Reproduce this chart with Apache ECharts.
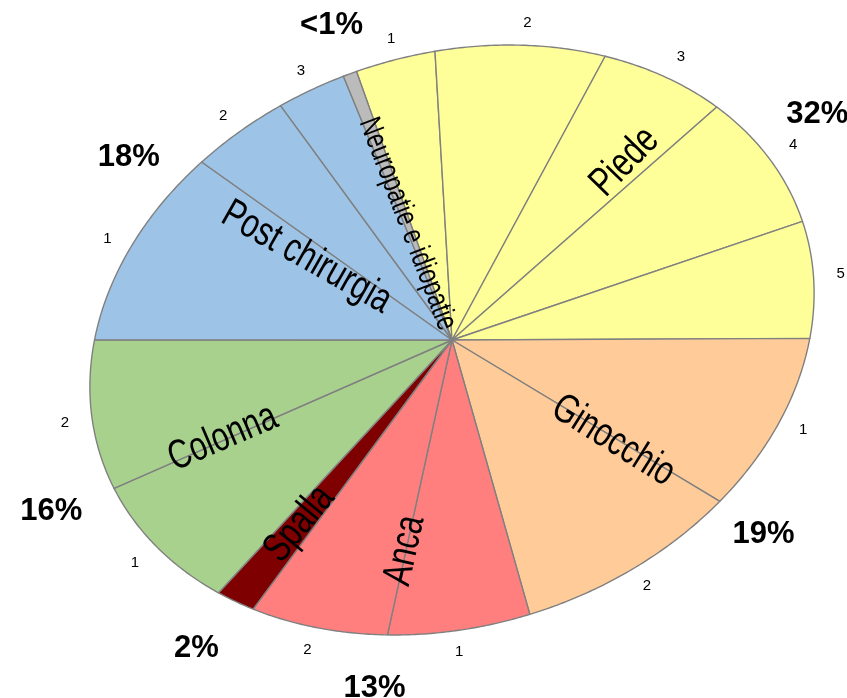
<!DOCTYPE html>
<html>
<head>
<meta charset="utf-8">
<title>Distribuzione per distretto</title>
<style>
  html, body { margin: 0; padding: 0; background: #ffffff; }
  #chart { width: 847px; height: 698px; }
</style>
</head>
<body>
<div id="chart"></div>
<script src="https://cdn.jsdelivr.net/npm/echarts@6/dist/echarts.min.js"></script>
<script>
// districts, clockwise from the top
const groups = ['Piede', 'Ginocchio', 'Anca', 'Spalla', 'Colonna', 'Post chirurgia', 'Neuropatie e idiopatie'];

// sub-slice values (% of total), clockwise inside each district
const piede = [3.5, 7.7, 6.1, 7.9, 6.5];
const ginocchio = [9.3, 9.8];
const anca = [6.3, 6.4];
const spalla = [1.9];
const colonna = [8.0, 8.4];
const postChirurgia = [10.3, 4.3, 3.0];
const neuropatie = [0.6];

const subValues = [piede, ginocchio, anca, spalla, colonna, postChirurgia, neuropatie];
const colors = ['#ffff99', '#ffcc99', '#ff7f7f', '#7f0000', '#a9d18e', '#9dc3e6', '#bbbbbb'];

// the pie is drawn as a tilted ellipse (axis units are pixels from the centre)
const RX = 370, RY = 285;
const TILT = -18.8 * Math.PI / 180;
const START = -90.6;             // first slice edge, degrees, clockwise
const pctShift = [17, 0, 0, 0, 0, 0, 0];  // degrees, nudges the % labels
const FONT = '"Liberation Sans", Arial, Helvetica, sans-serif';
const NAME_SIZE = 41, NAME_SQUASH = 0.75, NAME_MAX = 225;

const total = subValues.flat().reduce((a, b) => a + b, 0);
const slices = [];
const groupStart = [], groupEnd = [], groupSum = [];
let acc = START;
subValues.forEach((vals, g) => {
  groupStart[g] = acc;
  groupSum[g] = vals.reduce((a, b) => a + b, 0);
  vals.forEach((v, i) => {
    const a0 = acc;
    acc += v / total * 360;
    slices.push({ g: g, i: i, n: vals.length, v: v, a0: a0, a1: acc });
  });
  groupEnd[g] = acc;
});

function ellipsePoint(deg, r) {
  const a = deg * Math.PI / 180;
  const x0 = RX * r * Math.cos(a), y0 = RY * r * Math.sin(a);
  return [x0 * Math.cos(TILT) - y0 * Math.sin(TILT), x0 * Math.sin(TILT) + y0 * Math.cos(TILT)];
}

const measureCtx = document.createElement('canvas').getContext('2d');
function textWidth(text, size) {
  measureCtx.font = size + 'px ' + FONT;
  return measureCtx.measureText(text).width;
}

function renderSlice(params, api) {
  const s = slices[params.dataIndex];
  const pts = [api.coord([0, 0])];
  const steps = Math.max(2, Math.ceil((s.a1 - s.a0) / 0.5));
  for (let k = 0; k <= steps; k++) {
    pts.push(api.coord(ellipsePoint(s.a0 + (s.a1 - s.a0) * k / steps, 1)));
  }
  const children = [{
    type: 'polygon',
    shape: { points: pts },
    style: { fill: colors[s.g], stroke: '#808080', lineWidth: 1.4, lineJoin: 'round' }
  }];
  if (s.n > 1) {
    const p = api.coord(ellipsePoint((s.a0 + s.a1) / 2, 1.075));
    children.push({
      type: 'text', x: p[0], y: p[1],
      style: {
        text: String(s.i + 1), font: '15px ' + FONT, fill: '#000',
        align: 'center', verticalAlign: 'middle', textAlign: 'center', textVerticalAlign: 'middle'
      }
    });
  }
  return { type: 'group', children: children };
}

function renderGroup(params, api) {
  const g = params.dataIndex;
  const mid = (groupStart[g] + groupEnd[g]) / 2;
  const pct = groupSum[g] / total * 100;
  const pctText = pct < 1 ? '<1%' : Math.round(pct) + '%';
  const p = api.coord(ellipsePoint(mid + pctShift[g], 1.18));

  // district name runs along the radius, its outer end near the rim
  const c = api.coord([0, 0]);
  const outer = api.coord(ellipsePoint(mid, 0.83));
  const ang = Math.atan2(outer[1] - c[1], outer[0] - c[0]);
  const flip = Math.cos(ang) < 0;
  const fs = Math.min(NAME_SIZE, NAME_MAX / (textWidth(groups[g], 100) / 100 * NAME_SQUASH));
  const align = flip ? 'left' : 'right';

  return {
    type: 'group',
    children: [
      {
        type: 'text', x: p[0], y: p[1],
        style: {
          text: pctText, font: 'bold 31px ' + FONT, fill: '#000',
          align: 'center', verticalAlign: 'middle', textAlign: 'center', textVerticalAlign: 'middle'
        }
      },
      {
        type: 'text', x: outer[0], y: outer[1],
        rotation: flip ? Math.PI - ang : -ang,
        scaleX: NAME_SQUASH,
        style: {
          text: groups[g], font: fs.toFixed(1) + 'px ' + FONT, fill: '#000',
          align: align, verticalAlign: 'middle', textAlign: align, textVerticalAlign: 'middle'
        }
      }
    ]
  };
}

const chart = echarts.init(document.getElementById('chart'));
chart.setOption({
  backgroundColor: '#ffffff',
  animation: false,
  grid: { left: 0, right: 0, top: 0, bottom: 0 },
  xAxis: { type: 'value', min: -452, max: 395, show: false },
  yAxis: { type: 'value', min: -340, max: 358, inverse: true, show: false },
  series: [
    {
      type: 'custom',
      name: 'slices',
      coordinateSystem: 'cartesian2d',
      renderItem: renderSlice,
      data: slices.map(s => [s.g, s.i, s.v])
    },
    {
      type: 'custom',
      name: 'districts',
      coordinateSystem: 'cartesian2d',
      renderItem: renderGroup,
      data: groups.map((name, g) => [g, groupSum[g]]),
      z: 3
    }
  ]
});
</script>
</body>
</html>
